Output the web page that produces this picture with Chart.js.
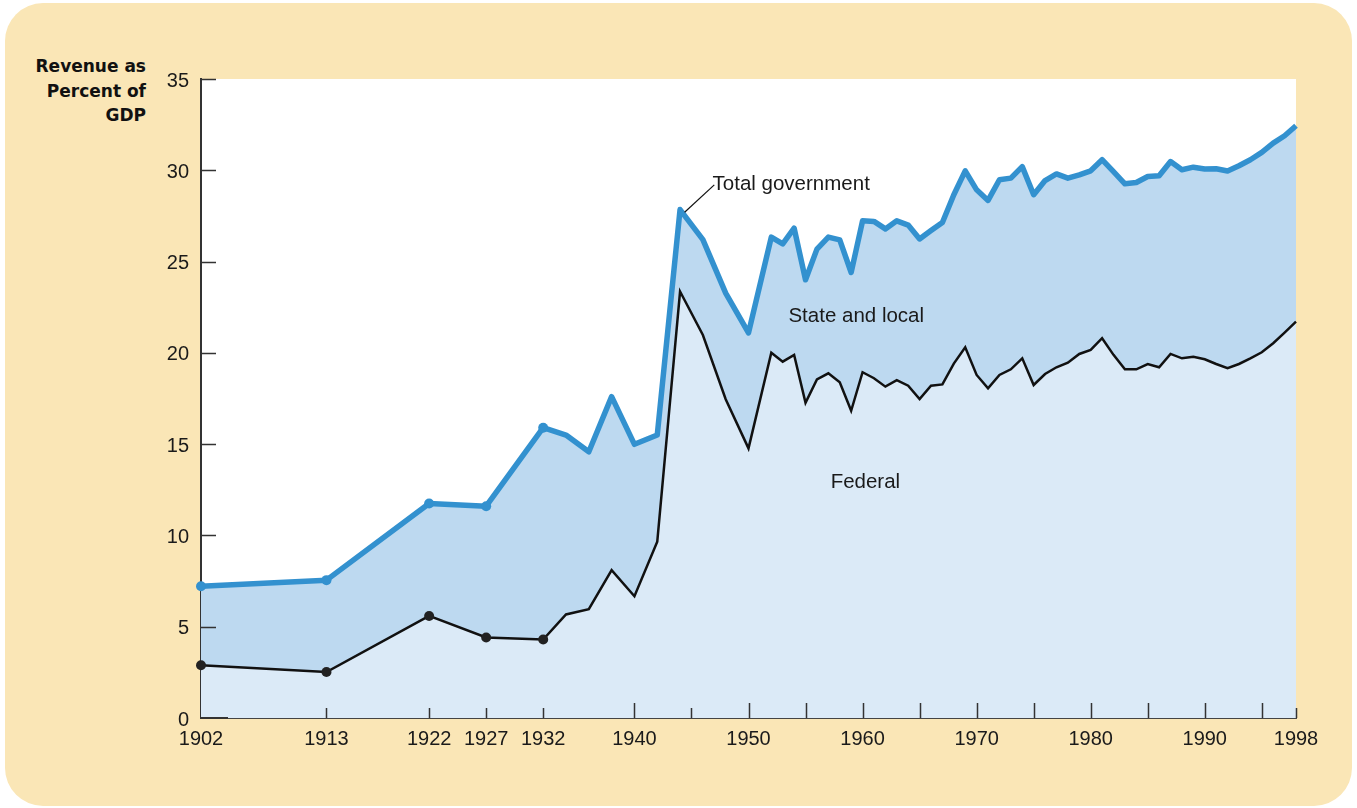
<!DOCTYPE html>
<html>
<head>
<meta charset="utf-8">
<script src="https://cdn.jsdelivr.net/npm/chart.js@4"></script>
<style>
  html, body { margin: 0; padding: 0; background: #ffffff; }
  #panel {
    position: absolute; left: 5px; top: 3px; width: 1347px; height: 803px;
    background: #FAE6B6; border-radius: 38px;
  }
  #ytitle {
    position: absolute; left: 0; top: 54px; width: 146px; text-align: right;
    font: bold 17px "DejaVu Sans", sans-serif; line-height: 24.5px; color: #111;
  }
  #chart { position: absolute; left: 0; top: 0; }
</style>
</head>
<body>
<div id="panel"></div>
<div id="ytitle">Revenue as<br>Percent of<br>GDP</div>
<canvas id="chart" width="1357" height="808"></canvas>
<script>
// Government revenue as percent of GDP, 1902-1998

const years = [1902, 1913, 1922, 1927, 1932, 1934, 1936, 1938, 1940, 1942, 1944, 1946, 1948, 1950,
    1952, 1953, 1954, 1955, 1956, 1957, 1958, 1959,
    1960, 1961, 1962, 1963, 1964, 1965, 1966, 1967, 1968, 1969,
    1970, 1971, 1972, 1973, 1974, 1975, 1976, 1977, 1978, 1979,
    1980, 1981, 1982, 1983, 1984, 1985, 1986, 1987, 1988, 1989,
    1990, 1991, 1992, 1993, 1994, 1995, 1996, 1997, 1998];

const totalRevenue = [7.22, 7.55, 11.75, 11.6, 15.9, 15.5, 14.58, 17.6, 14.99, 15.5, 27.85, 26.2, 23.27, 21.1,
    26.34, 25.97, 26.83, 24.0, 25.68, 26.34, 26.19, 24.4,
    27.23, 27.2, 26.79, 27.23, 27.0, 26.24, 26.7, 27.14, 28.66, 29.97,
    28.93, 28.35, 29.48, 29.57, 30.2, 28.66, 29.44, 29.8, 29.57, 29.75,
    29.97, 30.58, 29.93, 29.26, 29.33, 29.66, 29.7, 30.48, 30.03, 30.17,
    30.07, 30.08, 29.96, 30.25, 30.58, 30.98, 31.49, 31.89, 32.44];

const federalRevenue = [2.89, 2.52, 5.59, 4.41, 4.3, 5.67, 5.96, 8.1, 6.67, 9.65, 23.36, 20.98, 17.46, 14.77,
    20.01, 19.52, 19.89, 17.27, 18.55, 18.88, 18.39, 16.83,
    18.94, 18.61, 18.15, 18.51, 18.2, 17.47, 18.2, 18.27, 19.41, 20.3,
    18.79, 18.06, 18.79, 19.1, 19.7, 18.24, 18.84, 19.21, 19.46, 19.94,
    20.16, 20.8, 19.89, 19.1, 19.1, 19.39, 19.21, 19.94, 19.7, 19.79,
    19.65, 19.39, 19.16, 19.39, 19.7, 20.03, 20.53, 21.11, 21.71];

// years that get a dot (benchmark years)
const dotCount = 5;

const xLabels = [1902, 1913, 1922, 1927, 1932, 1940, 1950, 1960, 1970, 1980, 1990, 1998];
const longTicks = [1940, 1950, 1955, 1960, 1965, 1970, 1975, 1980, 1985, 1990, 1995];
const shortTicks = [1913, 1922, 1927, 1932, 1945, 1998];
const yTicks = [5, 10, 15, 20, 25, 30, 35];

const annotations = [
    { text: 'Total government', year: 1946.85, value: 29.25 },
    { text: 'State and local', year: 1953.5, value: 22.0 },
    { text: 'Federal', year: 1957.2, value: 12.9 }
];
const leader = { fromYear: 1947.0, fromValue: 29.2, toYear: 1944.4, toValue: 27.7 };

const labelFont = '20.5px "Liberation Sans", Arial, sans-serif';

// white plot background
const plotBackground = {
    id: 'plotBackground',
    beforeDraw(chart) {
        const { ctx, chartArea } = chart;
        ctx.save();
        ctx.fillStyle = '#ffffff';
        ctx.fillRect(chartArea.left, chartArea.top, chartArea.right - chartArea.left, chartArea.bottom - chartArea.top);
        ctx.restore();
    }
};

// inward tick marks + text labels inside the plot
const extras = {
    id: 'extras',
    afterDraw(chart) {
        const { ctx, chartArea } = chart;
        const x = chart.scales.x;
        const y = chart.scales.y;
        ctx.save();
        ctx.strokeStyle = '#333333';
        ctx.lineWidth = 1.5;
        ctx.beginPath();
        longTicks.forEach(yr => {
            const px = Math.round(x.getPixelForValue(yr)) + 0.5;
            ctx.moveTo(px, chartArea.bottom);
            ctx.lineTo(px, chartArea.bottom - 15);
        });
        shortTicks.forEach(yr => {
            const px = Math.round(x.getPixelForValue(yr)) + 0.5;
            ctx.moveTo(px, chartArea.bottom);
            ctx.lineTo(px, chartArea.bottom - 10);
        });
        yTicks.forEach(v => {
            const py = Math.round(y.getPixelForValue(v)) + 0.5;
            ctx.moveTo(chartArea.left, py);
            ctx.lineTo(chartArea.left + 15, py);
        });
        ctx.stroke();

        ctx.lineWidth = 2;
        ctx.beginPath();
        ctx.moveTo(chartArea.left, chartArea.bottom);
        ctx.lineTo(chartArea.left + 27, chartArea.bottom);
        ctx.stroke();

        // leader line for "Total government"
        ctx.strokeStyle = '#111111';
        ctx.lineWidth = 1.2;
        ctx.beginPath();
        ctx.moveTo(x.getPixelForValue(leader.fromYear), y.getPixelForValue(leader.fromValue));
        ctx.lineTo(x.getPixelForValue(leader.toYear), y.getPixelForValue(leader.toValue));
        ctx.stroke();

        ctx.fillStyle = '#1a1a1a';
        ctx.font = labelFont;
        ctx.textAlign = 'left';
        ctx.textBaseline = 'middle';
        annotations.forEach(a => {
            ctx.fillText(a.text, x.getPixelForValue(a.year), y.getPixelForValue(a.value));
        });
        ctx.restore();
    }
};

const dotRadius = (c) => c.dataIndex < dotCount ? 5 : 0;

const chart = new Chart(document.getElementById('chart').getContext('2d'), {
    type: 'line',
    data: {
        datasets: [
            {
                label: 'Total government',
                data: years.map((yr, i) => ({ x: yr, y: totalRevenue[i] })),
                borderColor: '#3391CF',
                backgroundColor: '#BDD9F0',
                borderWidth: 5.5,
                borderJoinStyle: 'round',
                fill: '+1',
                tension: 0,
                clip: false,
                pointRadius: dotRadius,
                pointBackgroundColor: '#3391CF',
                pointBorderWidth: 0
            },
            {
                label: 'Federal',
                data: years.map((yr, i) => ({ x: yr, y: federalRevenue[i] })),
                borderColor: '#111111',
                backgroundColor: '#DBEAF7',
                borderWidth: 2.5,
                fill: 'origin',
                tension: 0,
                clip: false,
                pointRadius: dotRadius,
                pointBackgroundColor: '#222222',
                pointBorderWidth: 0
            }
        ]
    },
    options: {
        responsive: false,
        animation: false,
        devicePixelRatio: 1,
        layout: { padding: { top: 79, right: 61, left: 0, bottom: 0 } },
        plugins: {
            legend: { display: false },
            tooltip: { enabled: false },
            filler: { drawTime: 'beforeDatasetsDraw' }
        },
        scales: {
            x: {
                type: 'linear',
                min: 1902,
                max: 1998,
                afterBuildTicks: (scale) => { scale.ticks = xLabels.map(v => ({ value: v })); },
                afterFit: (scale) => { scale.height = 90; },
                grid: { display: false, drawTicks: false },
                border: { display: true, color: '#444444', width: 2 },
                ticks: {
                    autoSkip: false,
                    maxRotation: 0,
                    padding: 9,
                    color: '#1a1a1a',
                    font: { family: '"Liberation Sans", Arial, sans-serif', size: 20 },
                    callback: (v) => String(v)
                }
            },
            y: {
                min: 0,
                max: 35,
                afterFit: (scale) => { scale.width = 201; },
                grid: { display: false, drawTicks: false },
                border: { display: true, color: '#333333', width: 2 },
                ticks: {
                    stepSize: 5,
                    padding: 12,
                    labelOffset: 2,
                    color: '#1a1a1a',
                    font: { family: '"Liberation Sans", Arial, sans-serif', size: 20 }
                }
            }
        }
    },
    plugins: [plotBackground, extras]
});
</script>
</body>
</html>
